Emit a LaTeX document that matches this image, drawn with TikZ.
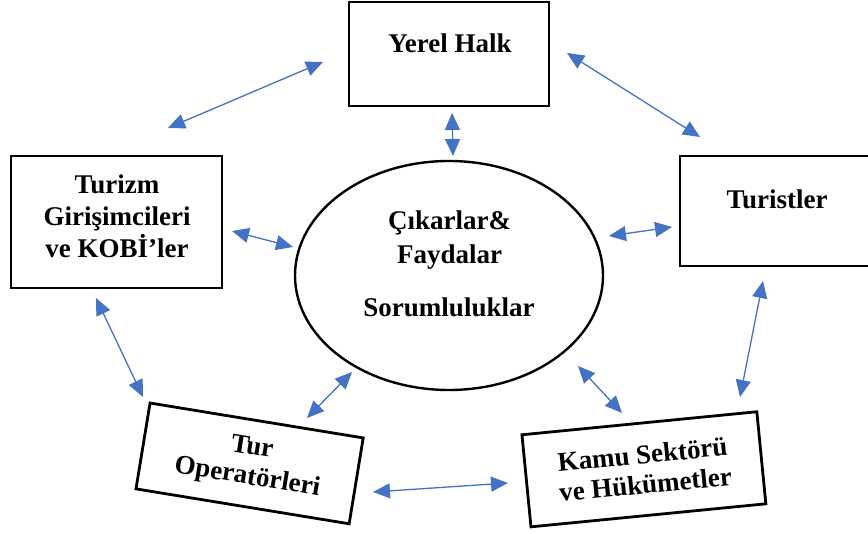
\documentclass[tikz,border=0pt]{standalone}
\usepackage{fontspec}
\setmainfont{Liberation Serif}
\usetikzlibrary{arrows.meta,shapes.geometric}
\definecolor{linkblue}{HTML}{4472C4}
\begin{document}
\begin{tikzpicture}[x=1pt,y=-1pt,
  box/.style={draw, rectangle, line width=2.8pt, inner sep=0pt},
  lbl/.style={font=\fontsize{27}{32}\selectfont\bfseries, align=center, inner sep=0pt},
  rlbl/.style={font=\fontsize{27}{30}\selectfont\bfseries, align=center},
  link/.style={linkblue, line width=1.3pt,
    {Triangle[length=17pt,width=15pt]}-{Triangle[length=17pt,width=15pt]}},
]
\clip (0,0) rectangle (868,534);

% actors
\node[box, minimum width=200pt, minimum height=104pt] (yerel) at (449,54) {};
\node[lbl, anchor=base] (yerel-t) at (450,53) {Yerel Halk};

\node[box, minimum width=211pt, minimum height=132pt] (kobi) at (116.5,222) {};
\node[lbl] (kobi-t) at (117,216) {Turizm\\Girişimcileri\\ve KOBİ’ler};

\node[box, minimum width=192pt, minimum height=110pt] (turist) at (776,211) {};
\node[lbl, anchor=base] (turist-t) at (777,209) {Turistler};

\node[box, rlbl, minimum width=216pt, minimum height=87pt, rotate=-9.3]
  (turop) at (249.6,463.4) {Tur\\Operatörleri};

\node[box, rlbl, minimum width=236pt, minimum height=92.5pt, rotate=5.6]
  (kamu) at (643.9,469.3) {Kamu Sektörü\\ve Hükümetler};

% shared centre
\node[draw, ellipse, line width=2.4pt, minimum width=308pt, minimum height=229pt,
  inner sep=0pt] (core) at (449,275.5) {};
\node[lbl, anchor=base] (core-a) at (449.5,230) {Çıkarlar\&};
\node[lbl, anchor=base] (core-b) at (449.5,264) {Faydalar};
\node[lbl, anchor=base] (core-c) at (449,317) {Sorumluluklar};

% connector ends
\coordinate (yerel-w)   at (323,62);
\coordinate (kobi-n)    at (168,128);
\coordinate (yerel-e)   at (567,53);
\coordinate (turist-n)  at (700,137);
\coordinate (yerel-s)   at (452,113);
\coordinate (core-n)    at (453,156);
\coordinate (kobi-e)    at (232,231);
\coordinate (core-w)    at (293,247);
\coordinate (core-e)    at (609,236);
\coordinate (turist-w)  at (672,227);
\coordinate (kobi-s)    at (96,298);
\coordinate (turop-n)   at (143,397);
\coordinate (core-sw)   at (352,372);
\coordinate (turop-ne)  at (307,418);
\coordinate (turop-e)   at (373,492);
\coordinate (kamu-w)    at (508,483);
\coordinate (core-se)   at (578,366);
\coordinate (kamu-n)    at (622,413);
\coordinate (turist-s)  at (763,281);
\coordinate (kamu-ne)   at (740,397);

% two-way relations
\draw[link] (kobi-n) -- (yerel-w);
\draw[link] (yerel-e) -- (turist-n);
\draw[link] (yerel-s) -- (core-n);
\draw[link] (kobi-e) -- (core-w);
\draw[link] (core-e) -- (turist-w);
\draw[link] (kobi-s) -- (turop-n);
\draw[link] (core-sw) -- (turop-ne);
\draw[link] (turop-e) -- (kamu-w);
\draw[link] (core-se) -- (kamu-n);
\draw[link] (turist-s) -- (kamu-ne);
\end{tikzpicture}
\end{document}
